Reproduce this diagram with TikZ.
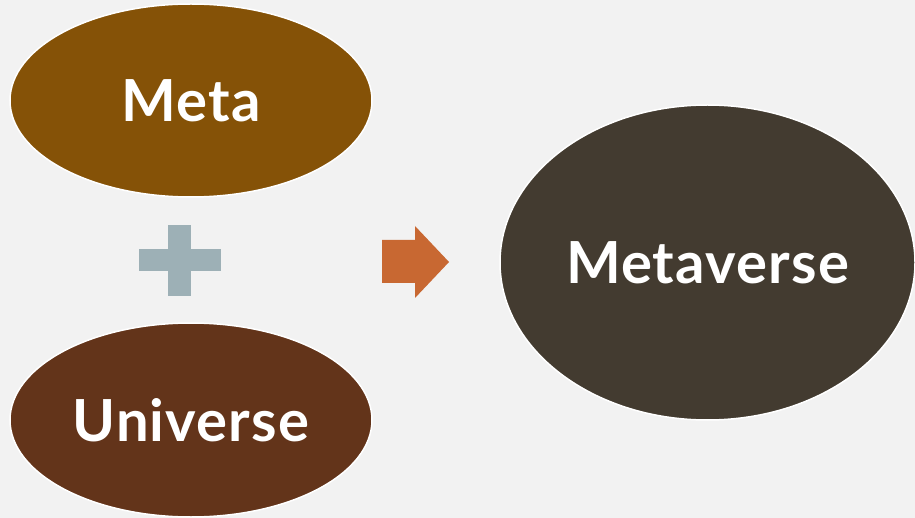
\documentclass[tikz,border=0pt]{standalone}
\usepackage{fontspec}
\setmainfont{Lato}[LetterSpace=2]
\usetikzlibrary{shapes.geometric}
\definecolor{bgGray}{HTML}{F2F2F2}
\definecolor{metaBrown}{HTML}{855207}
\definecolor{uniBrown}{HTML}{63341A}
\definecolor{verseDark}{HTML}{433B30}
\definecolor{plusGray}{HTML}{9DB0B6}
\definecolor{arrowOrange}{HTML}{C86832}
\tikzset{
  blob/.style={ellipse, draw=white, line width=1.5pt, inner sep=0pt,
    text=white, font=\bfseries\fontsize{58}{62}\selectfont},
}
\begin{document}
\begin{tikzpicture}[x=1pt,y=-1pt]
    \fill[bgGray] (0,0) rectangle (915,518);
    \useasboundingbox (0,0) rectangle (915,518);
    \node[blob, fill=metaBrown, minimum width=362pt, minimum height=193pt](meta) at (191,100.5) {Meta};
    \node[blob, fill=uniBrown, minimum width=362pt, minimum height=194pt](universe) at (191,420) {Universe};
    \node[blob, fill=verseDark, minimum width=415pt, minimum height=315pt](metaverse) at (707.5,262.5) {Metaverse};
    % plus sign
    \fill[plusGray] (168,225) rectangle (191,296);
    \fill[plusGray] (139,249) rectangle (221,271);
    % arrow
    \fill[arrowOrange] (382,240) -- (415,240) -- (415,226) -- (449,262)
        -- (415,298) -- (415,283) -- (382,283) -- cycle;
\end{tikzpicture}
\end{document}
